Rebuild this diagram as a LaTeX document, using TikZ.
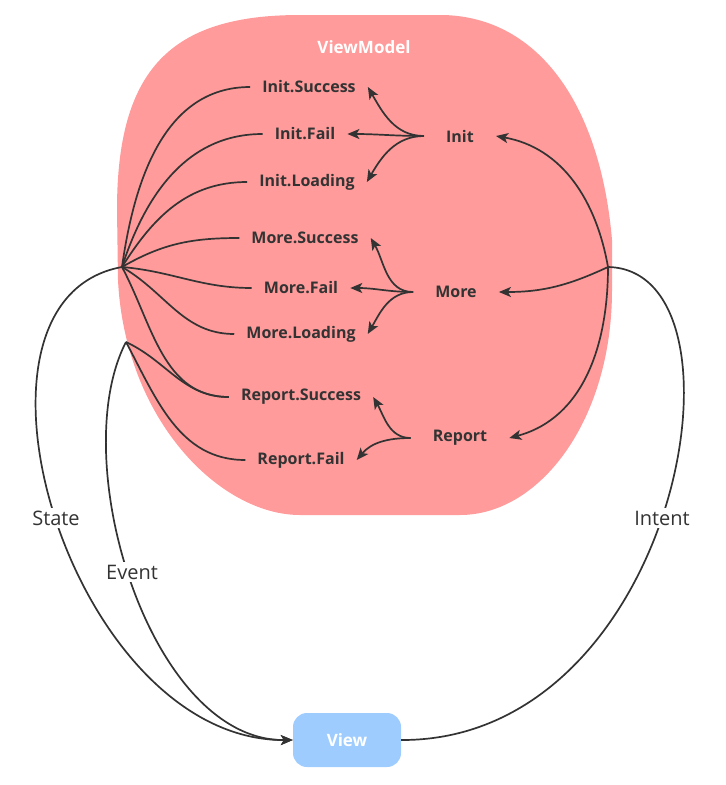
\documentclass[tikz,border=0pt]{standalone}
\usepackage{fontspec}
\setmainfont{Open Sans}
\usepackage{xcolor}
\usetikzlibrary{arrows.meta}
\definecolor{vmpink}{RGB}{255,155,155}
\definecolor{viewblue}{RGB}{158,204,255}
\definecolor{ink}{RGB}{51,51,51}

\begin{document}
\begin{tikzpicture}[x=1pt, y=1pt,
  txt/.style={font=\fontsize{16}{19}\selectfont\bfseries, text=ink, inner ysep=2pt},
  res/.style={txt, inner xsep=12pt},
  act/.style={txt, inner xsep=22pt},
  lbl/.style={font=\fontsize{20}{24}\selectfont, text=ink, fill=white, inner sep=3pt},
  viewbox/.style={fill=viewblue, rounded corners=14pt, minimum width=108pt,
                  minimum height=54pt, text=white, font=\fontsize{17}{20}\selectfont\bfseries},
  line/.style={draw=ink, line width=1.7pt},
  arr/.style={line, -{Stealth[length=12pt, width=10pt, inset=3pt]}}]
\useasboundingbox (0,0) rectangle (726,-785);

% The ViewModel blob.
\fill[vmpink] (300,-15) -- (440,-15) .. controls (535,-15) and (600,-100) .. (612,-240)
  -- (612,-290) .. controls (612,-420) and (540,-515) .. (460,-515)
  -- (300,-515) .. controls (220,-515) and (125,-420) .. (118,-280)
  -- (117,-210) .. controls (117,-70) and (170,-15) .. cycle;
\node[txt, text=white, font=\fontsize{17}{20}\selectfont\bfseries] (vmtitle) at (364,-47) {ViewModel};

% Results on the left.
\node[res] (isucc) at (309,-87) {Init.Success};
\node[res] (ifail) at (305,-134) {Init.Fail};
\node[res] (iload) at (307,-182) {Init.Loading};
\node[res] (msucc) at (305,-238) {More.Success};
\node[res] (mfail) at (301,-288) {More.Fail};
\node[res] (mload) at (301,-334) {More.Loading};
\node[res] (rsucc) at (301,-397) {Report.Success};
\node[res] (rfail) at (301,-460) {Report.Fail};

% Actions on the right.
\node[act] (init) at (460,-136) {Init};
\node[act] (more) at (456,-292) {More};
\node[act] (report) at (460,-438) {Report};

\node[viewbox] (view) at (347,-740) {View};

\coordinate (hubS) at (122,-267);
\coordinate (hubE) at (126,-342);
\coordinate (hubI) at (608,-267);

% Each action fans out to its results.
\foreach \s/\a in {isucc/-60, ifail/0, iload/60}
  \draw[arr] (init.west) to[out=180, in=\a] (\s.east);
\foreach \s/\a in {msucc/-60, mfail/0, mload/60}
  \draw[arr] (more.west) to[out=180, in=\a] (\s.east);
\foreach \s/\a in {rsucc/-60, rfail/50}
  \draw[arr] (report.west) to[out=180, in=\a] (\s.east);

% Results gather into state and event.
\foreach \s/\a in {isucc/82, ifail/72, iload/58, msucc/30, mfail/-5, mload/-30, rsucc/-62}
  \draw[line] (hubS) to[out=\a, in=180] (\s.west);
\foreach \s/\a in {rsucc/-25, rfail/-62}
  \draw[line] (hubE) to[out=\a, in=180] (\s.west);

% Intent splits into the actions.
\draw[arr] (hubI) to[out=100, in=-10] (init.east);
\draw[arr] (hubI) to[out=205, in=0] (more.east);
\draw[arr] (hubI) to[out=-90, in=15] (report.east);

% The loop through the view.
\draw[arr] (hubS) .. controls (-60,-300) and (70,-741) .. (view.west);
\draw[arr] (hubE) .. controls (65,-460) and (150,-741) .. (view.west);
\draw[line] (view.east) .. controls (680,-741) and (760,-270) .. (hubI);

\node[lbl] (lstate) at (56,-518) {State};
\node[lbl] (levent) at (132,-572) {Event};
\node[lbl] (lintent) at (662,-518) {Intent};
\end{tikzpicture}
\end{document}
